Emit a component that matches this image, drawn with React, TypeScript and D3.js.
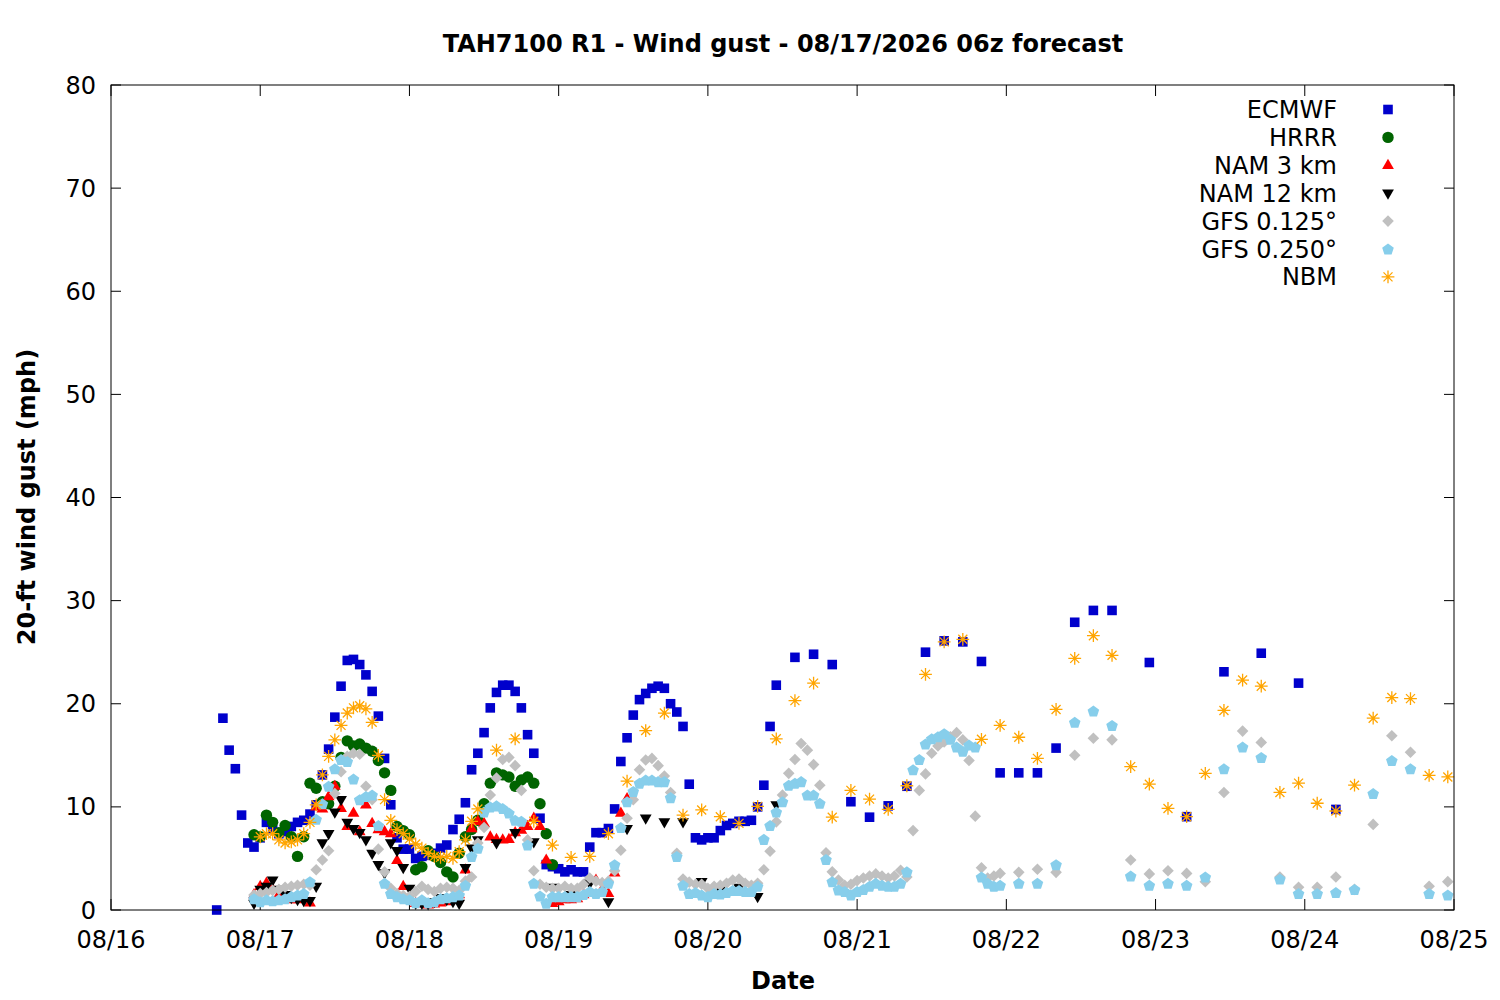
import React from "react";
import * as d3 from "d3";

// hours are counted from 08/16 00:00 (local)
const dayLabels = ["08/16", "08/17", "08/18", "08/19", "08/20", "08/21", "08/22", "08/23", "08/24", "08/25"];
const yTicks = [0, 10, 20, 30, 40, 50, 60, 70, 80];

// ECMWF: hourly from h17, then 3-hourly from h110, then 6-hourly from h167
const ecmwfHourly = [
  0, 18.6, 15.5, 13.7, 9.2, 6.5, 6.1, 7.0, 8.5, 7.8,
  7.4, 7.6, 8.1, 8.5, 8.7, 9.3, 10.2, 13.1, 15.6, 18.7,
  21.7, 24.2, 24.3, 23.8, 22.8, 21.2, 18.8, 14.7, 10.2, 7.0,
  5.9, 5.9, 5.0, 5.2, 5.3, 5.5, 6.0, 6.3, 7.8, 8.8,
  10.4, 13.6, 15.2, 17.2, 19.6, 21.1, 21.8, 21.8, 21.2, 19.6,
  17.0, 15.2, 8.9, 4.4, 4.2, 4.0, 3.7, 3.9, 3.7, 3.7,
  6.1, 7.5, 7.5, 7.9, 9.8, 14.4, 16.7, 18.9, 20.4, 21.0,
  21.5, 21.7, 21.5, 20.0, 19.2, 17.8, 12.2, 7.0, 6.8, 7.0,
  7.0, 7.7, 8.2, 8.4, 8.6, 8.6, 8.7, 10.0, 12.1, 17.8,
  21.8,
];
const ecmwf3h = [24.5, 24.8, 23.8, 10.5, 9.0, 10.1, 12.0, 25.0, 26.1, 26.0, 24.1, 13.3, 13.3, 13.3, 15.7, 27.9, 29.05, 29.05];
const ecmwf6h = [24.0, 9.05, 23.1, 24.9, 22.0, 9.75];

// HRRR: hourly from h23
const hrrrHourly = [
  7.3, 7.1, 9.2, 8.5, 7.5, 8.2, 7.1, 5.2, 7.1, 12.3,
  11.8, 10.5, 10.3, 12.0, 14.8, 16.4, 15.9, 16.1, 15.7, 15.4,
  14.5, 13.3, 11.6, 8.1, 7.7, 7.3, 3.9, 4.2, 5.75, 5.2,
  4.6, 3.7, 3.2, 5.5, 7.1, 7.8, 8.7, 10.3, 12.3, 13.3,
  13.1, 12.9, 12.0, 12.6, 12.9, 12.3, 10.3, 7.4, 4.4,
];

// NAM 3 km: hourly from h23
const nam3Hourly = [
  1.5, 2.3, 2.6, 2.0, 1.5, 1.2, 1.0, 1.0, 1.1, 0.7,
  10.0, 9.8, 11.0, 12.0, 9.85, 8.1, 9.4, 7.6, 10.2, 8.4,
  7.8, 7.6, 7.4, 4.8, 2.3, 1.2, 0.65, 0.6, 0.5, 0.6,
  0.7, 0.8, 1.0, 1.5, 3.9, 7.9, 8.6, 8.4, 7.1, 6.85,
  6.8, 6.85, 7.5, 7.75, 8.1, 8.9, 8.1, 4.85, 0.65, 0.8,
  1.0, 1.0, 1.1, 1.5, 2.9, 2.9, 2.0, 1.6, 3.6, 9.4,
  10.8,
];

// NAM 12 km: hourly from h23, then 3-hourly from h62
const nam12Hourly = [
  0.65, 2.0, 2.3, 2.9, 2.0, 1.5, 1.2, 1.0, 0.9, 0.9,
  2.3, 6.5, 7.4, 9.5, 10.7, 8.5, 7.9, 7.5, 6.8, 5.5,
  4.4, 3.6, 6.5, 5.75, 4.1, 2.1, 0.65, 0.65, 0.6, 0.8,
  1.2, 1.0, 0.8, 0.65, 4.1, 6.0, 6.8,
];
const nam12_3h = [6.5, 7.5, 6.6, 2.2, 1.5, 2.6, 0.8, 7.9, 8.9, 8.55, 8.55, 2.75, 2.0, 2.2, 1.3, 10.2];

// GFS 0.125: hourly from h23, then 3-hourly from h146
const gfs125Hourly = [
  1.45, 1.6, 1.7, 1.9, 2.0, 2.2, 2.3, 2.4, 2.5, 2.4,
  3.9, 4.85, 5.75, 11.3, 13.4, 14.9, 15.2, 15.1, 12.0, 10.7,
  5.9, 3.7, 2.1, 1.6, 1.4, 1.3, 1.8, 2.3, 2.0, 1.8,
  2.1, 2.2, 2.1, 1.9, 2.8, 3.2, 6.5, 8.0, 11.15, 12.8,
  14.6, 14.8, 14.0, 11.6, 6.8, 3.8, 2.5, 2.2, 2.1, 2.1,
  2.3, 2.1, 2.1, 2.5, 3.1, 2.8, 2.65, 2.8, 3.8, 5.8,
  8.9, 10.7, 13.6, 14.55, 14.7, 14.0, 13.0, 11.4, 5.5, 3.0,
  2.7, 2.5, 2.5, 2.1, 2.3, 2.4, 2.6, 2.9, 3.0, 2.6,
  2.4, 2.6, 3.9, 5.7, 8.55, 11.15, 13.25, 14.6, 16.15, 15.5,
  14.1, 12.1, 5.55, 3.7, 2.9, 2.4, 2.5, 2.85, 3.1, 3.3,
  3.5, 3.3, 3.1, 3.3, 3.85, 3.2, 7.7, 11.6, 13.2, 15.2,
  15.9, 16.3, 16.8, 17.2, 16.5, 14.5, 9.1, 4.1, 3.1, 3.3,
  3.55,
];
const gfs125_3h = [
  3.65, 3.95, 3.65, 15.0, 16.65, 16.5, 4.85, 3.5, 3.8, 3.55, 2.75, 11.4,
  17.35, 16.25, 3.2, 2.2, 2.2, 3.2, 2.0, 8.3, 16.9, 15.3, 2.3, 2.75,
];

// GFS 0.250: hourly from h23, then 3-hourly from h146
const gfs250Hourly = [
  1.1, 0.8, 1.0, 0.9, 1.0, 1.1, 1.3, 1.45, 1.6, 2.75,
  8.8, 10.3, 12.0, 13.7, 14.6, 14.4, 12.7, 10.7, 11.0, 11.15,
  8.2, 2.6, 1.6, 1.3, 1.1, 1.0, 0.7, 1.0, 0.7, 0.8,
  1.1, 1.2, 1.3, 1.45, 2.4, 5.2, 6.0, 9.5, 10.0, 10.1,
  9.85, 9.4, 8.7, 8.6, 6.3, 2.6, 1.35, 0.65, 1.3, 1.3,
  1.3, 1.3, 1.3, 1.5, 1.8, 1.6, 1.8, 2.6, 4.4, 8.0,
  10.5, 11.5, 12.3, 12.6, 12.6, 12.45, 12.45, 10.9, 5.2, 2.4,
  1.6, 1.7, 1.45, 1.3, 1.6, 1.55, 1.7, 1.9, 1.9, 1.8,
  1.8, 2.3, 6.85, 8.2, 9.5, 10.5, 12.1, 12.3, 12.45, 11.15,
  11.15, 10.35, 4.9, 2.75, 1.95, 1.8, 1.45, 1.8, 2.0, 2.3,
  2.6, 2.4, 2.3, 2.3, 2.6, 3.7, 13.6, 14.6, 16.1, 16.6,
  16.8, 17.1, 16.55, 15.8, 15.4, 16.0, 15.8, 3.2, 2.6, 2.3,
  2.4,
];
const gfs250_3h = [
  2.6, 2.6, 4.4, 18.2, 19.3, 17.9, 3.3, 2.4, 2.6, 2.4, 3.2, 13.7,
  15.8, 14.8, 3.0, 1.6, 1.6, 1.7, 2.0, 11.3, 14.5, 13.7, 1.6, 1.45,
];

// NBM: hourly from h24, then 3-hourly from h62
const nbmHourly = [
  7.1, 7.4, 7.4, 6.8, 6.5, 6.6, 6.8, 7.4, 8.5, 10.2,
  13.1, 14.9, 16.5, 17.9, 19.1, 19.6, 19.8, 19.5, 18.2, 15.0,
  10.7, 8.7, 7.8, 7.4, 6.9, 6.4, 6.0, 5.5, 5.2, 5.1,
  5.2, 5.0, 5.65, 6.8, 8.6, 9.8,
];
const nbm3h = [
  15.5, 16.6, 8.6, 6.3, 5.1, 5.2, 7.4, 12.5, 17.4, 19.1,
  9.2, 9.7, 9.05, 8.4, 10.05, 16.6, 20.3, 22.0, 9.0, 11.6,
  10.75, 9.75, 12.05, 22.85, 26.0, 26.25, 16.55, 17.9, 16.75, 14.7,
  19.45, 24.4, 26.6, 24.7, 13.9, 12.2, 9.85, 9.05, 13.25, 19.35,
  22.3, 21.7, 11.4, 12.3, 10.35, 9.6, 12.1, 18.6, 20.6, 20.5,
  13.05, 12.9,
];

type Seg = { start: number; step: number; values: number[] };
type Series = { name: string; color: string; shape: string; segs: Seg[] };

const series: Series[] = [
  { name: "ECMWF", color: "#0000cc", shape: "square", segs: [
    { start: 17, step: 1, values: ecmwfHourly },
    { start: 110, step: 3, values: ecmwf3h },
    { start: 167, step: 6, values: ecmwf6h },
  ] },
  { name: "HRRR", color: "#006400", shape: "circle", segs: [{ start: 23, step: 1, values: hrrrHourly }] },
  { name: "NAM 3 km", color: "#ff0000", shape: "triUp", segs: [{ start: 23, step: 1, values: nam3Hourly }] },
  { name: "NAM 12 km", color: "#000000", shape: "triDown", segs: [
    { start: 23, step: 1, values: nam12Hourly },
    { start: 62, step: 3, values: nam12_3h },
  ] },
  { name: "GFS 0.125°", color: "#c0c0c0", shape: "diamond", segs: [
    { start: 23, step: 1, values: gfs125Hourly },
    { start: 146, step: 3, values: gfs125_3h },
  ] },
  { name: "GFS 0.250°", color: "#87ceeb", shape: "pentagon", segs: [
    { start: 23, step: 1, values: gfs250Hourly },
    { start: 146, step: 3, values: gfs250_3h },
  ] },
  { name: "NBM", color: "#ffa500", shape: "star", segs: [
    { start: 24, step: 1, values: nbmHourly },
    { start: 62, step: 3, values: nbm3h },
  ] },
];

const W = 1500;
const H = 1000;
const plot = { left: 111, right: 1454, top: 85, bottom: 910 };
const FONT = "'DejaVu Sans', Verdana, sans-serif";
const FS = 24;

const pentagon = (() => {
  const r = 6.1;
  const pts = d3.range(5).map((k) => {
    const a = -Math.PI / 2 + (k * 2 * Math.PI) / 5;
    return [r * Math.cos(a), r * Math.sin(a) + 0.6];
  });
  return "M" + pts.map((p) => p.join(",")).join("L") + "Z";
})();

function Marker({ shape, color, cx, cy }: { shape: string; color: string; cx: number; cy: number }) {
  const t = `translate(${cx},${cy})`;
  switch (shape) {
    case "square":
      return <path transform={t} d="M-4.8,-4.8h9.6v9.6h-9.6z" fill={color} />;
    case "circle":
      return <circle cx={cx} cy={cy} r={5.7} fill={color} />;
    case "triUp":
      return <path transform={t} d="M0,-6.6L5.9,3.6L-5.9,3.6Z" fill={color} />;
    case "triDown":
      return <path transform={t} d="M0,6.6L5.9,-3.6L-5.9,-3.6Z" fill={color} />;
    case "diamond":
      return <path transform={t} d="M0,-5.8L5.8,0L0,5.8L-5.8,0Z" fill={color} />;
    case "pentagon":
      return <path transform={t} d={pentagon} fill={color} />;
    default:
      return (
        <path
          transform={t}
          d="M-6.4,0H6.4M0,-6.4V6.4M-4.5,-4.5L4.5,4.5M-4.5,4.5L4.5,-4.5"
          stroke={color}
          strokeWidth={1.3}
          fill="none"
        />
      );
  }
}

export default function App() {
  const x = d3.scaleLinear().domain([0, 216]).range([plot.left, plot.right]);
  const y = d3.scaleLinear().domain([0, 80]).range([plot.bottom, plot.top]);
  const dayTicks = dayLabels.map((label, i) => ({ label, h: i * 24 }));

  return (
    <div style={{ position: "absolute", left: 0, top: 0 }}>
      <svg width={W} height={H} style={{ display: "block", background: "#fff" }} fontFamily={FONT}>
        <rect width={W} height={H} fill="#fff" />

        {/* title */}
        <text x={783} y={52} textAnchor="middle" fontSize={FS} fontWeight="bold">
          TAH7100 R1 - Wind gust - 08/17/2026 06z forecast
        </text>

        {/* y axis ticks and labels */}
        {yTicks.map((v) => (
          <g key={"y" + v}>
            <line x1={plot.left} x2={plot.left + 10} y1={y(v)} y2={y(v)} stroke="#000" />
            <line x1={plot.right - 10} x2={plot.right} y1={y(v)} y2={y(v)} stroke="#000" />
            <text x={96} y={y(v) + 8.5} textAnchor="end" fontSize={FS}>
              {v}
            </text>
          </g>
        ))}

        {/* x axis ticks and labels */}
        {dayTicks.map((d) => (
          <g key={d.label}>
            <line x1={x(d.h)} x2={x(d.h)} y1={plot.bottom} y2={plot.bottom - 11} stroke="#000" />
            <line x1={x(d.h)} x2={x(d.h)} y1={plot.top} y2={plot.top + 11} stroke="#000" />
            <text x={x(d.h)} y={948} textAnchor="middle" fontSize={FS}>
              {d.label}
            </text>
          </g>
        ))}

        {/* axis titles */}
        <text x={783} y={989} textAnchor="middle" fontSize={FS} fontWeight="bold">
          Date
        </text>
        <text
          transform={`translate(35,497) rotate(-90)`}
          textAnchor="middle"
          fontSize={FS}
          fontWeight="bold"
        >
          20-ft wind gust (mph)
        </text>

        {/* data */}
        {series.map((s) => (
          <g key={s.name}>
            {s.segs.flatMap((seg, si) =>
              seg.values.map((v, i) => (
                <Marker
                  key={si + "-" + i}
                  shape={s.shape}
                  color={s.color}
                  cx={x(seg.start + i * seg.step)}
                  cy={y(v)}
                />
              ))
            )}
          </g>
        ))}

        {/* legend */}
        {series.map((s, i) => {
          const ly = 109.5 + i * 27.9;
          return (
            <g key={"lg" + s.name}>
              <text x={1337} y={ly + 8.5} textAnchor="end" fontSize={FS}>
                {s.name}
              </text>
              <Marker shape={s.shape} color={s.color} cx={1388} cy={ly} />
            </g>
          );
        })}

        {/* frame */}
        <rect
          x={plot.left}
          y={plot.top}
          width={plot.right - plot.left}
          height={plot.bottom - plot.top}
          fill="none"
          stroke="#000"
          strokeWidth={1}
        />
      </svg>
    </div>
  );
}
